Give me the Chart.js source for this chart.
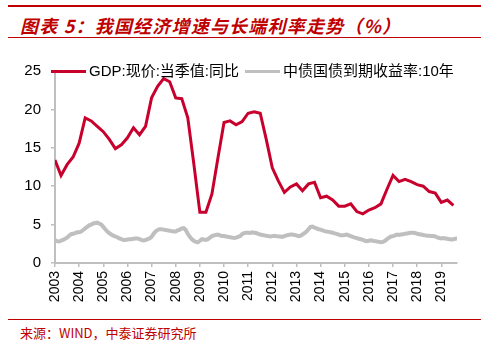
<!DOCTYPE html>
<html>
<head>
<meta charset="utf-8">
<script src="https://cdn.jsdelivr.net/npm/chart.js@4.4.1/dist/chart.umd.min.js"></script>
<style>
  body { margin: 0; width: 493px; height: 351px; overflow: hidden; position: relative; background: #fff;
         font-family: "Liberation Sans", "Noto Sans CJK SC", sans-serif; }
  .rule { position: absolute; left: 8px; width: 473px; background: #c00000; }
  #title { position: absolute; left: 20px; top: 13px; color: #c00000; white-space: nowrap;
           font: italic bold 18px/24px "Noto Sans CJK SC", sans-serif; letter-spacing: 1.2px; }
  #source { position: absolute; left: 20px; top: 325px; color: #c00000; white-space: nowrap;
            font: 13px/16px "Noto Sans CJK SC", sans-serif; }
  #wrap { position: absolute; left: 0; top: 40px; width: 493px; height: 276px; }
  #legend { position: absolute; left: 51px; top: 61px; height: 20px; white-space: nowrap;
            font: 15px/20px "Liberation Sans", "Noto Sans CJK SC", sans-serif; color: #000; }
  #legend span.item { display: inline-block; margin-right: 6px; }
  #legend i { display: inline-block; width: 35px; height: 3px; vertical-align: middle; margin-right: 3px; position: relative; top: -1px; }
</style>
</head>
<body>
<div class="rule" style="top:5px;height:2px"></div>
<div id="title">图表 5：我国经济增速与长端利率走势（%）</div>
<div class="rule" style="top:37px;height:1px"></div>
<div id="wrap"><canvas id="chart"></canvas></div>
<div id="legend"></div>
<div class="rule" style="top:319px;height:1px"></div>
<div id="source">来源：WIND，中泰证券研究所</div>
<script>
// GDP:现价:当季值:同比, quarterly from 2003Q1 to 2019Q3
const gdpStart = 2003;
const gdpYoY = [
  13.4, 11.4, 12.8, 13.8,
  15.6, 18.9, 18.5, 17.8,
  17.1, 16.1, 14.9, 15.4,
  16.3, 17.6, 16.7, 17.8,
  21.5, 23.0, 24.0, 23.6,
  21.5, 21.4, 18.9, 12.9,
  6.6, 6.6, 9.0, 13.7,
  18.3, 18.5, 18.0, 18.4,
  19.5, 19.7, 19.5, 16.1,
  12.4, 10.7, 9.2, 9.9,
  10.3, 9.4, 10.3, 10.5,
  8.5, 8.7, 8.2, 7.4,
  7.4, 7.7, 6.7, 6.4,
  6.9, 7.2, 7.7, 9.6,
  11.4, 10.6, 10.9, 10.6,
  10.2, 10.0, 9.3, 9.1,
  7.9, 8.2, 7.5,
];

// 中债国债到期收益率:10年, monthly from Jan 2003 to Sep 2019
const bondStart = 2003;
const bond10y = [
  3.0, 2.85, 2.8, 2.9, 3.0, 3.15, 3.3, 3.55, 3.75, 3.8, 3.9, 4.0,
  4.0, 4.1, 4.3, 4.5, 4.7, 4.9, 5.0, 5.15, 5.2, 5.25, 5.15, 5.0,
  4.7, 4.4, 4.1, 3.9, 3.7, 3.55, 3.45, 3.35, 3.2, 3.1, 3.0, 3.0,
  3.05, 3.1, 3.1, 3.15, 3.2, 3.2, 3.1, 3.0, 2.95, 3.0, 3.1, 3.2,
  3.4, 3.8, 4.1, 4.3, 4.4, 4.4, 4.35, 4.3, 4.25, 4.2, 4.15, 4.1,
  4.1, 4.25, 4.35, 4.5, 4.55, 4.3, 3.8, 3.4, 3.1, 2.9, 2.75, 2.7,
  2.9, 3.1, 3.05, 3.0, 3.1, 3.3, 3.5, 3.6, 3.65, 3.7, 3.6, 3.5,
  3.5, 3.45, 3.4, 3.35, 3.3, 3.25, 3.3, 3.4, 3.5, 3.75, 3.9, 3.95,
  3.95, 3.9, 4.0, 3.95, 3.9, 3.8, 3.7, 3.65, 3.6, 3.55, 3.5, 3.45,
  3.5, 3.55, 3.5, 3.45, 3.45, 3.4, 3.5, 3.6, 3.65, 3.7, 3.7, 3.65,
  3.6, 3.5, 3.55, 3.7, 3.9, 4.1, 4.4, 4.7, 4.75, 4.6, 4.5, 4.4,
  4.35, 4.25, 4.15, 4.1, 4.05, 4.0, 3.95, 3.85, 3.8, 3.7, 3.6, 3.6,
  3.65, 3.7, 3.6, 3.5, 3.4, 3.3, 3.25, 3.15, 3.1, 3.0, 2.9, 2.85,
  2.9, 2.95, 2.9, 2.85, 2.8, 2.75, 2.7, 2.75, 2.9, 3.1, 3.3, 3.45,
  3.5, 3.6, 3.7, 3.65, 3.7, 3.75, 3.8, 3.85, 3.9, 3.95, 3.95, 3.9,
  3.8, 3.75, 3.7, 3.65, 3.6, 3.55, 3.55, 3.5, 3.5, 3.45, 3.35, 3.25,
  3.2, 3.25, 3.2, 3.15, 3.1, 3.05, 3.1, 3.15, 3.2,
];

const yearTicks = [2003, 2004, 2005, 2006, 2007, 2008, 2009, 2010, 2011,
                   2012, 2013, 2014, 2015, 2016, 2017, 2018, 2019];
const yTicks = [0, 5, 10, 15, 20, 25];

const series = [
  { label: 'GDP:现价:当季值:同比', color: '#c8002d', width: 3,
    data: gdpYoY.map((v, i) => ({ x: gdpStart + i / 4, y: v })) },
  { label: '中债国债到期收益率:10年', color: '#bfbfbf', width: 4,
    data: bond10y.map((v, i) => ({ x: bondStart + i / 12, y: v })) },
];

const axisGray = '#bfbfbf';
const tickFont = { family: '"Liberation Sans", Arial, sans-serif' };

new Chart(document.getElementById('chart'), {
  type: 'line',
  data: {
    datasets: series.map(s => ({
      label: s.label,
      data: s.data,
      borderColor: s.color,
      backgroundColor: s.color,
      borderWidth: s.width,
      pointRadius: 0,
      tension: 0,
      fill: false,
    })),
  },
  options: {
    responsive: true,
    maintainAspectRatio: false,
    animation: false,
    layout: { padding: { top: 31, right: 36, left: 0, bottom: 0 } },
    plugins: { legend: { display: false }, tooltip: { enabled: false } },
    scales: {
      x: {
        type: 'linear',
        min: 2003,
        max: 2019.65,
        afterFit: s => { s.height = 53; },
        afterBuildTicks: s => { s.ticks = yearTicks.map(v => ({ value: v })); },
        grid: { drawOnChartArea: false, drawTicks: true, tickLength: 4, color: axisGray, lineWidth: 1.5 },
        border: { color: axisGray, width: 2 },
        ticks: {
          autoSkip: false, minRotation: 90, maxRotation: 90, padding: 4,
          color: '#000', font: { ...tickFont, size: 14 },
          callback: v => String(v),
        },
      },
      y: {
        min: 0,
        max: 25,
        afterFit: s => { s.width = 55; },
        afterBuildTicks: s => { s.ticks = yTicks.map(v => ({ value: v })); },
        grid: { drawOnChartArea: false, drawTicks: true, tickLength: 4, color: axisGray, lineWidth: 1.5 },
        border: { color: axisGray, width: 2 },
        ticks: { padding: 10, color: '#000', font: { ...tickFont, size: 15 } },
      },
    },
  },
});

document.getElementById('legend').innerHTML = series.map(s =>
  `<span class="item"><i style="background:${s.color}"></i>${s.label}</span>`).join('');
</script>
</body>
</html>
